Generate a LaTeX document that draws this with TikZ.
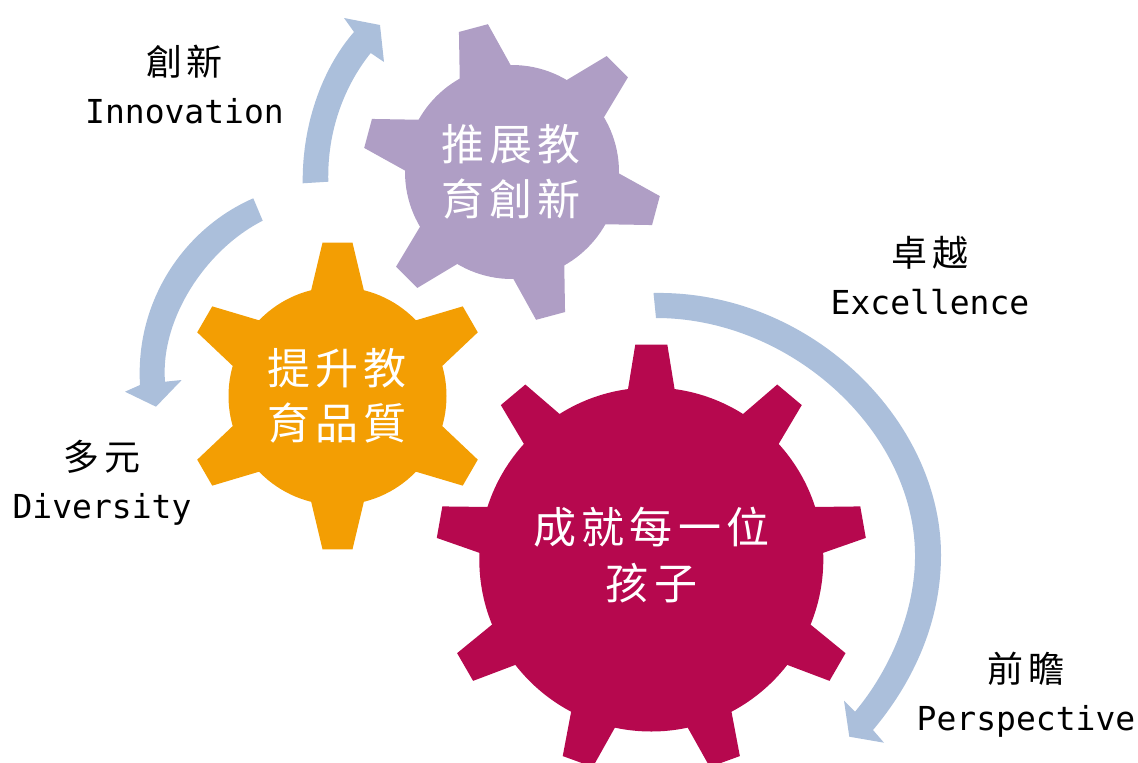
\documentclass[tikz,border=0pt]{standalone}
\usepackage{fontspec}
\setmainfont{DejaVu Sans Mono}
\newfontfamily\cjk[LetterSpace=12]{Noto Sans CJK TC}
\usepackage{color}
\definecolor{mypurple}{RGB}{175,158,197}
\definecolor{myorange}{RGB}{243,158,3}
\definecolor{mycrimson}{RGB}{182,8,78}
\definecolor{myblue}{RGB}{171,191,219}
\newcommand{\gearshape}[8]{% centre x, centre y, colour, body radius, tip radius, base half width, tip half width, tooth angles
    \begin{scope}[shift={(#1,#2)}]
        \fill[#3] (0,0) circle[radius=#4];
        \foreach \tooth in #8 {
            \fill[#3, rotate=\tooth] (#4-6,-#6-1) -- (#5,-#7) -- (#5,#7) -- (#4-6,#6+1) -- cycle;
        }
    \end{scope}
}
\newcommand{\duo}[2]{{\cjk\fontsize{36}{48}\selectfont #1}\\#2}
\tikzset{
    geartext/.style={text=white, align=center, font=\cjk\fontsize{43}{55.5}\selectfont},
    sidetext/.style={text=black, align=center, inner sep=0pt, font=\fontsize{33}{48}\selectfont},
    swoosh/.style={fill=myblue},
}
\begin{document}
\begin{tikzpicture}[x=1pt, y=-1pt]
    \useasboundingbox (0,0) rectangle (1138,763);

    \gearshape{512}{172}{mypurple}{107}{149}{26}{15}{{105,165,225,285,345,45}}
    \gearshape{337.5}{396}{myorange}{109}{153.3}{26}{15}{{90,150,210,270,330,30}}
    \gearshape{651.3}{559.5}{mycrimson}{172}{215}{23}{16}{{90,130,170,210,250,290,330,10,50}}

    \node[geartext] (pushtext) at (511,172) {推展教\\育創新};
    \node[geartext] (raisetext) at (337,396) {提升教\\育品質};
    \node[geartext] (childtext) at (651.5,555) {成就每一位\\孩子};

    \node[sidetext] (innovationtext) at (184.5,85) {\duo{創新}{Innovation}};
    \node[sidetext] (diversitytext) at (102,482.5) {\duo{多元}{Diversity}};
    \node[sidetext] (excellencetext) at (930,276) {\duo{卓越}{Excellence}};
    \node[sidetext] (perspectivetext) at (1026,695) {\duo{前瞻}{Perspective}};

    % innovation
    \fill[swoosh] (302.7,183.3) .. controls (302,120) and (325,65) .. (354,32)
        -- (344,18) -- (380,25) -- (384,62) -- (370.7,53)
        .. controls (345,85) and (327,130) .. (328.3,181.7) -- cycle;
    % diversity
    \fill[swoosh] (253.3,198.3) .. controls (185,228) and (135,300) .. (140,385)
        -- (125,391.7) -- (156,406.7) -- (181.7,380) -- (165,381.7)
        .. controls (160,320) and (205,250) .. (262.7,220.7) -- cycle;
    % excellence
    \fill[swoosh] (653.5,293) .. controls (810,290) and (941,420) .. (941,555)
        .. controls (941,620) and (915,680) .. (873,730)
        -- (884,742.7) -- (849.3,736.7) -- (844,700.7) -- (855,711.7)
        .. controls (890,670) and (916,610) .. (915,553)
        .. controls (913,430) and (790,318) .. (656,318) -- cycle;
\end{tikzpicture}
\end{document}
